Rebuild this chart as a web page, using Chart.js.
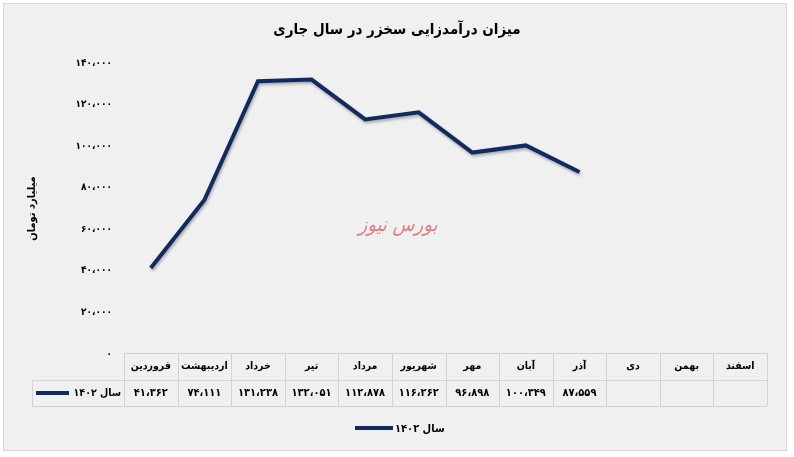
<!DOCTYPE html>
<html>
<head>
<meta charset="utf-8">
<script src="https://cdn.jsdelivr.net/npm/chart.js@4/dist/chart.umd.min.js"></script>
<style>
  html, body { margin: 0; padding: 0; background: #ffffff; }
  #wrap { width: 794px; height: 457px; }
</style>
</head>
<body>
<div id="wrap"><canvas id="revenue-chart" width="794" height="457"></canvas></div>
<script>
// months of the year (Persian calendar)
const months = ["فروردین", "اردیبهشت", "خرداد", "تیر", "مرداد", "شهریور", "مهر", "آبان", "آذر", "دی", "بهمن", "اسفند"];
// revenue 1402, billion toman (empty months have no value yet)
const revenue1402 = [41362, 74111, 131238, 132051, 112878, 116262, 96898, 100349, 87559, null, null, null];
const seriesLabel = "سال ۱۴۰۲";
const chartTitle = "میزان درآمدزایی سخزر در سال جاری";
const axisTitle = "میلیارد تومان";
const yTicks = [0, 20000, 40000, 60000, 80000, 100000, 120000, 140000];

const lineColor = "#112b60";
const persianFont = "'DejaVu Sans Condensed', 'DejaVu Sans', sans-serif";

// 131238 -> ۱۳۱،۲۳۸
function toPersian(n) {
  const s = String(n).replace(/\B(?=(\d{3})+(?!\d))/g, "،");
  return s.replace(/\d/g, (d) => "۰۱۲۳۴۵۶۷۸۹"[d]);
}

// frame, title, data table, legend and watermark
const decorPlugin = {
  id: "decor",
  beforeDraw(chart) {
    const ctx = chart.ctx;
    ctx.save();
    ctx.fillStyle = "#f0f0f0";
    ctx.fillRect(3, 3, 783, 447);
    ctx.strokeStyle = "#d6d6d6";
    ctx.lineWidth = 1;
    ctx.strokeRect(3.5, 3.5, 783, 447);

    ctx.fillStyle = "#000";
    ctx.font = "bold 15px " + persianFont;
    ctx.textAlign = "center";
    ctx.textBaseline = "middle";
    ctx.fillText(chartTitle, 397, 30);

    // watermark
    ctx.fillStyle = "rgba(215, 90, 95, 0.75)";
    ctx.font = "italic 20px " + persianFont;
    ctx.fillText("بورس نیوز", 398, 226);
    ctx.restore();
  },
  beforeDatasetsDraw(chart) {
    // soft shadow under the line
    chart.ctx.save();
    chart.ctx.shadowColor = "rgba(0, 0, 0, 0.3)";
    chart.ctx.shadowBlur = 3;
    chart.ctx.shadowOffsetX = 1;
    chart.ctx.shadowOffsetY = 2;
  },
  afterDatasetsDraw(chart) {
    chart.ctx.restore();
  },
  afterDraw(chart) {
    const ctx = chart.ctx;
    const x = chart.scales.x;
    const area = chart.chartArea;
    const w = (area.right - area.left) / months.length;
    const top = 353, mid = 380, bottom = 406, labelLeft = 32;

    ctx.save();
    ctx.strokeStyle = "#d3d3d3";
    ctx.lineWidth = 1;
    ctx.beginPath();
    ctx.moveTo(area.left, top + 0.5);
    ctx.lineTo(area.right, top + 0.5);
    ctx.moveTo(labelLeft, mid + 0.5);
    ctx.lineTo(area.right, mid + 0.5);
    ctx.moveTo(labelLeft, bottom + 0.5);
    ctx.lineTo(area.right, bottom + 0.5);
    ctx.moveTo(labelLeft + 0.5, mid);
    ctx.lineTo(labelLeft + 0.5, bottom);
    for (let i = 0; i <= months.length; i++) {
      const cx = Math.round(area.left + i * w) + 0.5;
      ctx.moveTo(cx, top);
      ctx.lineTo(cx, bottom);
    }
    ctx.stroke();

    ctx.fillStyle = "#000";
    ctx.textAlign = "center";
    ctx.textBaseline = "middle";
    months.forEach((m, i) => {
      const cx = x.getPixelForValue(i);
      ctx.font = "bold 10.5px " + persianFont;
      ctx.fillText(m, cx, (top + mid) / 2);
      if (revenue1402[i] !== null) {
        ctx.font = "bold 11px " + persianFont;
        ctx.fillText(toPersian(revenue1402[i]), cx, (mid + bottom) / 2);
      }
    });

    // row label with legend key
    ctx.strokeStyle = lineColor;
    ctx.lineWidth = 4;
    ctx.beginPath();
    ctx.moveTo(36, 393);
    ctx.lineTo(69, 393);
    ctx.stroke();
    ctx.font = "bold 10.5px " + persianFont;
    ctx.textAlign = "right";
    ctx.fillText(seriesLabel, 121, 393);

    // bottom legend
    ctx.beginPath();
    ctx.moveTo(355, 428);
    ctx.lineTo(393, 428);
    ctx.stroke();
    ctx.font = "bold 11px " + persianFont;
    ctx.textAlign = "left";
    ctx.fillText(seriesLabel, 395, 429);
    ctx.restore();
  },
};

const ctx = document.getElementById("revenue-chart").getContext("2d");

const revenueChart = new Chart(ctx, {
  type: "line",
  data: {
    labels: months,
    datasets: [
      {
        label: seriesLabel,
        data: revenue1402,
        borderColor: lineColor,
        backgroundColor: lineColor,
        borderWidth: 4,
        pointRadius: 0,
        tension: 0,
        spanGaps: false,
      },
    ],
  },
  options: {
    responsive: false,
    animation: false,
    layout: { padding: { left: 26, right: 27, top: 63, bottom: 103 } },
    plugins: {
      legend: { display: false },
      tooltip: { enabled: false },
    },
    scales: {
      x: {
        display: false,
        offset: true,
      },
      y: {
        min: 0,
        max: 140000,
        afterFit(scale) {
          scale.width = 98;
        },
        afterBuildTicks(scale) {
          scale.ticks = yTicks.map((v) => ({ value: v }));
        },
        grid: { display: false, drawTicks: false },
        border: { display: false },
        ticks: {
          padding: 12,
          color: "#000",
          font: { family: persianFont, size: 10, weight: "bold" },
          callback: (v) => toPersian(v),
        },
        title: {
          display: true,
          text: axisTitle,
          color: "#000",
          font: { family: persianFont, size: 11, weight: "bold" },
          padding: 0,
        },
      },
    },
  },
  plugins: [decorPlugin],
});
</script>
</body>
</html>
